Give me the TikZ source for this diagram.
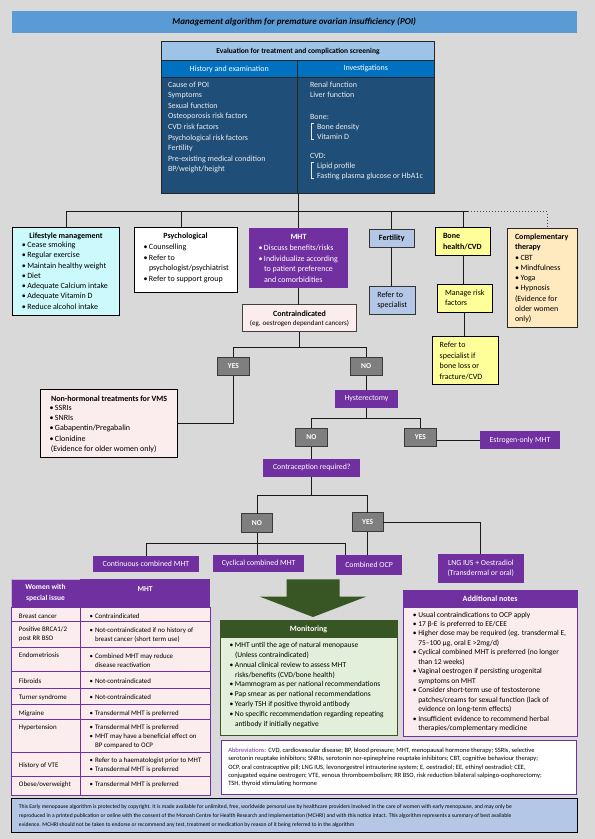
\documentclass[tikz,border=0pt]{standalone}
\usepackage{fontspec}
\setmainfont{Carlito}
\usetikzlibrary{calc}
\definecolor{bg}{HTML}{D9D9D9}
\definecolor{titleblue}{HTML}{5B9BD5}
\definecolor{evhead}{HTML}{9DC3E6}
\definecolor{evsub}{HTML}{0070C0}
\definecolor{evbody}{HTML}{1F4E79}
\definecolor{purp}{HTML}{7030A0}
\definecolor{cyanbox}{HTML}{CCFAFC}
\definecolor{pinkbox}{HTML}{FBEDED}
\definecolor{fertblue}{HTML}{B4C7E7}
\definecolor{yel}{HTML}{FFFF99}
\definecolor{peach}{HTML}{FFE9BF}
\definecolor{grn}{HTML}{375623}
\definecolor{lgrn}{HTML}{E2EFDA}
\definecolor{gbox}{HTML}{7F7F7F}
\definecolor{gline}{HTML}{3A3A3A}
\definecolor{foot}{HTML}{B4C7E7}
\definecolor{evtxt}{HTML}{EDEDED}
\newcommand\myfs[2]{\fontsize{#1}{#2}\selectfont}
\newcommand\bul{\makebox[5.5pt][l]{•}}
\newcommand\indt{\hspace*{5.5pt}}
\newcommand\bnode[7]{\node[#1, anchor=north west, minimum width={(#5-#3)*1pt}, minimum height={(#6-#4)*1pt}] (#2) at (#3,#4) {#7};}
\newcommand\txtl[5]{\node[anchor=base west, inner sep=0pt, #1] (#2) at (#3,#4+2) {\vtop{\halign{##\hfil\cr#5\crcr}}};}
\tikzset{
  every node/.style={inner sep=0pt, outer sep=0pt},
  conn/.style={draw=black!90, line width=0.9pt},
  yn/.style={fill=gbox, draw=gline, line width=1pt, text=white, font=\myfs{7.5}{9}\bfseries},
  pbox/.style={fill=purp, text=white, font=\myfs{7.8}{10.7}, align=center},
  blk/.style={draw=black, line width=1pt},
  tbl/.style={draw=purp, line width=1pt}
}
\begin{document}
\begin{tikzpicture}[x=1pt,y=-1pt]
\fill[bg] (0,0) rectangle (595,839);
\useasboundingbox (0,0) rectangle (595,839);

% title
\bnode{fill=titleblue, font=\myfs{9}{11}\bfseries\itshape}{title}{11.5}{11}{577}{33}{Management algorithm for premature ovarian insufficiency (POI)}

% evaluation box
\bnode{fill=evbody}{eval}{161.5}{41.5}{434.5}{193.5}{}
\bnode{fill=evhead, font=\myfs{7.5}{9}\bfseries}{evh}{161.5}{41.5}{434.5}{60.5}{Evaluation for treatment and complication screening}
\bnode{fill=evsub, text=white, font=\myfs{8}{9}}{evsL}{161.5}{60.5}{297}{77.3}{History and examination}
\bnode{fill=evsub, text=white, font=\myfs{8}{9}}{evsR}{297}{60.5}{434.5}{77.3}{Investigations}
\draw[black!85, line width=1pt] (evh.south west) -- (evh.south east);
\draw[black!85, line width=1pt] (evsL.south west) -- (evsR.south east);
\draw[black!85, line width=1pt] (evsL.north east) -- (evsL.north east |- eval.south);
\draw[black!85, line width=1pt] (eval.north west) rectangle (eval.south east);
\txtl{text=evtxt, font=\myfs{8}{10.6}}{evL}{168}{85}{Cause of POI\cr Symptoms\cr Sexual function\cr Osteoporosis risk factors\cr CVD risk factors\cr Psychological risk factors\cr Fertility\cr Pre-existing medical condition\cr BP/weight/height}
\txtl{text=evtxt, font=\myfs{8}{10.6}}{evR1}{310}{85}{Renal function\cr Liver function}
\txtl{text=evtxt, font=\myfs{8}{10.6}}{evR2}{310}{117}{Bone:}
\txtl{text=evtxt, font=\myfs{8}{10}}{evR3}{317}{127}{Bone density\cr Vitamin D}
\txtl{text=evtxt, font=\myfs{8}{10.6}}{evR4}{310}{156}{CVD:}
\txtl{text=evtxt, font=\myfs{8}{10}}{evR5}{317}{166}{Lipid profile\cr Fasting plasma glucose or HbA1c}
\draw[evtxt, line width=0.7pt] (314,123.5) -- (311.5,123.5) -- (311.5,139) -- (314,139);
\draw[evtxt, line width=0.7pt] (314,162.5) -- (311.5,162.5) -- (311.5,178) -- (314,178);

% first row boxes
\bnode{blk, fill=cyanbox}{life}{12.5}{227}{119.5}{315}{}
\node[font=\myfs{8}{10}\bfseries] (lifeT) at (66,236) {Lifestyle management};
\txtl{font=\myfs{8}{10.25}}{lifeL}{21.8}{245.7}{\bul Cease smoking\cr \bul Regular exercise\cr \bul Maintain healthy weight\cr \bul Diet\cr \bul Adequate Calcium intake\cr \bul Adequate Vitamin D\cr \bul Reduce alcohol intake}

\bnode{blk, fill=white}{psych}{134}{227}{237}{292}{}
\node[font=\myfs{8}{10}\bfseries] (psychT) at (185.5,236.7) {Psychological};
\txtl{font=\myfs{8}{10.5}}{psychL}{143.5}{247.7}{\bul Counselling\cr \bul Refer to\cr \indt psychologist/psychiatrist\cr \bul Refer to support group}

\bnode{fill=purp}{mht}{249}{227.7}{348}{288}{}
\node[text=white, font=\myfs{8}{10}\bfseries] (mhtT) at (298.5,237.3) {MHT};
\txtl{text=white, font=\myfs{8}{10.5}}{mhtL}{258.5}{248.7}{\bul Discuss benefits/risks\cr \bul Individualize according\cr \indt to patient preference\cr \indt and comorbidities}

\bnode{draw=black!80, line width=1pt, fill=fertblue, font=\myfs{8}{10}\bfseries}{fert}{369}{229.3}{414.5}{247.3}{Fertility}
\bnode{draw=black!80, line width=1pt, fill=fertblue}{fspec}{369.3}{286}{415.3}{314.3}{}
\txtl{font=\myfs{8}{10.3}}{fspecL}{377.3}{295}{Refer to\cr specialist}

\bnode{blk, fill=yel}{bone}{435.7}{227.3}{490.7}{255.3}{}
\txtl{font=\myfs{8}{10.6}\bfseries}{boneL}{443}{236.7}{Bone\cr health/CVD}
\bnode{blk, fill=yel}{manage}{437}{284}{492}{312.3}{}
\txtl{font=\myfs{8}{9.6}}{manageL}{445}{293.7}{Manage risk\cr factors}
\bnode{blk, fill=yel}{bspec}{432.3}{336.3}{498.3}{384}{}
\txtl{font=\myfs{8}{10.5}}{bspecL}{439.7}{345.7}{Refer to\cr specialist if\cr bone loss or\cr fracture/CVD}

\bnode{draw=black!85, line width=1pt, fill=peach}{comp}{507.3}{228.3}{577.3}{327}{}
\txtl{font=\myfs{8}{10.25}}{compL}{515}{237.7}{\textbf{Complementary}\cr \textbf{therapy}\cr \bul CBT\cr \bul Mindfulness\cr \bul Yoga\cr \bul Hypnosis\cr (Evidence for\cr older women\cr only)}

% bus
\coordinate (busL) at (66,211.5);
\coordinate (busR) at (468,211.5);
\coordinate (busD) at (547,211.5);
\coordinate (psyC) at (181,211.5);
\draw[conn] (eval.south) -- (eval.south |- mht.north);
\draw[conn] (busL) -- (busR);
\draw[gray!60!black, line width=1pt, dotted] (busR) -- (busD) -- (busD |- comp.north);
\draw[conn] (busL) -- (life.north);
\draw[conn] (psyC) -- (psyC |- psych.north);
\draw[conn] (fert.north |- busL) -- (fert.north);
\draw[conn] (bone.north |- busL) -- (bone.north);
\draw[conn] (fert.south) -- (fert.south |- fspec.north);
\draw[conn] (bone.south) -- (bone.south |- manage.north);
\draw[conn] (manage.south) -- (manage.south |- bspec.north);

% contraindicated
\bnode{draw=black!75, line width=1pt, fill=pinkbox}{contra}{242.5}{304.7}{356.5}{331.5}{}
\node[font=\myfs{8}{10}\bfseries] (contraT) at (299.5,313.7) {Contraindicated};
\node[font=\myfs{7}{9}] (contraS) at (299.5,324) {(eg. oestrogen dependant cancers)};
\draw[conn] (mht.south) -- (mht.south |- contra.north);

\bnode{yn}{yes1}{217.5}{357.3}{249.3}{375.7}{YES}
\bnode{yn}{no1}{350.3}{357.3}{382.2}{375.7}{NO}
\coordinate (b2) at (299.5,347.7);
\draw[conn] (contra.south) -- (b2);
\draw[conn] (yes1.north) |- (b2) -| (no1.north);

\bnode{blk, fill=pinkbox}{nonh}{40.6}{389.3}{177.6}{457.3}{}
\node[font=\myfs{8}{10}\bfseries] (nonhT) at (109.1,399) {Non-hormonal treatments for VMS};
\txtl{font=\myfs{8}{10.1}}{nonhL}{49.5}{408.7}{\bul SSRIs\cr \bul SNRIs\cr \bul Gabapentin/Pregabalin\cr \bul Clonidine\cr \hspace*{1.4pt}(Evidence for older women only)}
\draw[conn] (yes1.south) |- (nonh.east);

\bnode{pbox}{hyst}{335}{390}{398}{407.7}{Hysterectomy}
\draw[conn] (no1.south) -- (no1.south |- hyst.north);
\coordinate (b3) at (366.5,418.3);
\bnode{yn}{no2}{295.6}{428}{327.1}{446.7}{NO}
\bnode{yn}{yes2}{404.6}{428}{436.4}{446.7}{YES}
\draw[conn] (hyst.south) -- (b3);
\draw[conn] (no2.north) |- (b3) -| (yes2.north);
\bnode{pbox}{estr}{480}{431.3}{560}{449.3}{Estrogen-only MHT}
\draw[conn] (yes2.east |- estr.west) -- (estr.west);

\bnode{pbox}{contr}{263.4}{458.7}{360.2}{476.7}{Contraception required?}
\draw[conn] (no2.south) -- (no2.south |- contr.north);
\coordinate (b4) at (311.35,495.3);
\bnode{yn}{no3}{241.4}{513.7}{272.5}{532.7}{NO}
\bnode{yn}{yes3}{352.2}{512.7}{383.3}{531.7}{YES}
\draw[conn] (b4 |- contr.south) -- (b4);
\draw[conn] (no3.north) |- (b4) -| (yes3.north);

\bnode{pbox}{cont}{93.4}{555.7}{198.5}{572.3}{Continuous combined MHT}
\bnode{pbox}{cyc}{212.9}{555}{304.4}{571.7}{Cyclical combined MHT}
\bnode{pbox}{ocp}{336.2}{554.7}{401.9}{575}{Combined OCP}
\bnode{pbox}{lng}{438}{554}{523.7}{582.7}{LNG IUS + Oestradiol\\(Transdermal or oral)}
\coordinate (b5R) at (345.7,543.3);
\draw[conn] (no3.south) -- (no3.south |- cyc.north);
\draw[conn] (cont.north) |- (b5R) -- (b5R |- ocp.north);
\draw[conn] (yes3.south) -- (yes3.south |- ocp.north);
\draw[conn] (yes3.east) -| (lng.north);

% big arrow
\fill[grn] (286.5,579.3) -- (339.5,579.3) -- (339.5,596.5) -- (366.5,596.5) -- (313,617) -- (259.5,596.5) -- (286.5,596.5) -- cycle;

% monitoring
\bnode{draw=grn, line width=1pt, fill=lgrn}{mon}{220}{620}{397}{735.7}{}
\bnode{fill=grn, text=white, font=\myfs{8}{10}\bfseries}{monH}{220}{620}{397}{638.3}{Monitoring}
\txtl{font=\myfs{7.5}{9.9}}{monL}{229.5}{645.3}{\bul MHT until the age of natural menopause\cr \indt (Unless contraindicated)\cr \bul Annual clinical review to assess MHT\cr \indt risks/benefits (CVD/bone health)\cr \bul Mammogram as per national recommendations\cr \bul Pap smear as per national recommendations\cr \bul Yearly TSH if positive thyroid antibody\cr \bul No specific recommendation regarding repeating\cr \indt antibody if initially negative}

% additional notes
\bnode{draw=purp, line width=1pt, fill=pinkbox}{notes}{403.3}{590}{577}{736.7}{}
\bnode{fill=purp, text=white, font=\myfs{8}{10}\bfseries}{notesH}{403.3}{590}{577}{608.3}{Additional notes}
\txtl{font=\myfs{7.5}{9.48}}{notesL}{412.8}{615}{\bul Usual contraindications to OCP apply\cr \bul 17 β-E\, is preferred to EE/CEE\cr \bul Higher dose may be required (eg. transdermal E,\cr \indt 75–100 µg, oral E >2mg/d)\cr \bul Cyclical combined MHT is preferred (no longer\cr \indt than 12 weeks)\cr \bul Vaginal oestrogen if persisting urogenital\cr \indt symptoms on MHT\cr \bul Consider short-term use of testosterone\cr \indt patches/creams for sexual function (lack of\cr \indt evidence on long-term effects)\cr \bul Insufficient evidence to recommend herbal\cr \indt therapies/complementary medicine}

% abbreviations
\bnode{draw=purp, line width=1pt, fill=white}{abbr}{221.7}{740}{576.7}{794.3}{}
\txtl{font=\myfs{6.5}{8.35}}{abbrL}{228.3}{750.3}{\textcolor{purp}{Abbreviations:} CVD, cardiovascular disease; BP, blood pressure; MHT, menopausal hormone therapy; SSRIs, selective\cr serotonin reuptake inhibitors; SNRIs, serotonin nor-epinephrine reuptake inhibitors; CBT, cognitive behaviour therapy;\cr OCP, oral contraceptive pill; LNG IUS, levonorgestrel intrauterine system; E, oestradiol; EE, ethinyl oestradiol; CEE,\cr conjugated equine oestrogen; VTE, venous thromboembolism; RR BSO, risk reduction bilateral salpingo-oophorectomy;\cr TSH, thyroid stimulating hormone}

% table
\bnode{fill=purp, draw=purp!40!white, line width=0.8pt}{thL}{11}{579}{80}{607.3}{}
\bnode{fill=purp}{thR}{80}{579}{210}{607.3}{}
\node[text=white, align=center, font=\myfs{7.5}{10.6}\bfseries] (thLT) at (45.5,593) {Women with\\special issue};
\node[text=white, font=\myfs{7.5}{10}\bfseries] (thRT) at (145,589) {MHT};
\fill[pinkbox] (11,607.3) rectangle (210,795);
\foreach \yy in {621.7,647.7,671.7,688.3,704.3,719.3,752.3,776.7} \draw[tbl] (11,\yy) -- (210,\yy);
\draw[tbl] (11,607.3) rectangle (210,795);
\draw[tbl] (80,607.3) -- (80,795);
\txtl{font=\myfs{6.9}{9}}{t1L}{19}{616}{Breast cancer}
\txtl{font=\myfs{6.9}{9}}{t2L}{19}{629.3}{Positive BRCA1/2\cr post RR BSO}
\txtl{font=\myfs{6.9}{9}}{t3L}{19}{655.7}{Endometriosis}
\txtl{font=\myfs{6.9}{9}}{t4L}{19}{681}{Fibroids}
\txtl{font=\myfs{6.9}{9}}{t5L}{19}{697}{Turner syndrome}
\txtl{font=\myfs{6.9}{9}}{t6L}{19}{713}{Migraine}
\txtl{font=\myfs{6.9}{9}}{t7L}{19}{727.7}{Hypertension}
\txtl{font=\myfs{6.9}{9}}{t8L}{19}{765.7}{History of VTE}
\txtl{font=\myfs{6.9}{9}}{t9L}{19}{784.7}{Obese/overweight}
\txtl{font=\myfs{6.9}{9}}{t1R}{89.5}{616}{\bul Contraindicated}
\txtl{font=\myfs{6.9}{9}}{t2R}{89.5}{630.7}{\bul Not-contraindicated if no history of\cr \indt breast cancer (short term use)}
\txtl{font=\myfs{6.9}{8.5}}{t3R}{89.5}{656.7}{\bul Combined MHT may reduce\cr \indt disease reactivation}
\txtl{font=\myfs{6.9}{9}}{t4R}{89.5}{681}{\bul Not-contraindicated}
\txtl{font=\myfs{6.9}{9}}{t5R}{89.5}{697}{\bul Not-contraindicated}
\txtl{font=\myfs{6.9}{9}}{t6R}{89.5}{713}{\bul Transdermal MHT is preferred}
\txtl{font=\myfs{6.9}{9}}{t7R}{89.5}{727.7}{\bul Transdermal MHT is preferred\cr \bul MHT may have a beneficial effect on\cr \indt BP compared to OCP}
\txtl{font=\myfs{6.9}{9}}{t8R}{89.5}{760.7}{\bul Refer to a haematologist prior to MHT\cr \bul Transdermal MHT is preferred}
\txtl{font=\myfs{6.9}{9}}{t9R}{89.5}{784.7}{\bul Transdermal MHT is preferred}

% footer
\bnode{blk, fill=foot}{foot}{11.4}{798}{577.6}{832}{}
\txtl{font=\myfs{5.6}{9}}{footL}{19}{806.4}{This Early menopause algorithm is protected by copyright. It is made available for unlimited, free, worldwide personal use by healthcare providers involved in the care of women with early menopause, and may only be\cr reproduced in a printed publication or online with the consent of the Monash Centre for Health Research and Implementation (MCHRI) and with this notice intact. This algorithm represents a summary of best available\cr evidence. MCHRI should not be taken to endorse or recommend any test, treatment or medication by reason of it being referred to in the algorithm}
\end{tikzpicture}
\end{document}
